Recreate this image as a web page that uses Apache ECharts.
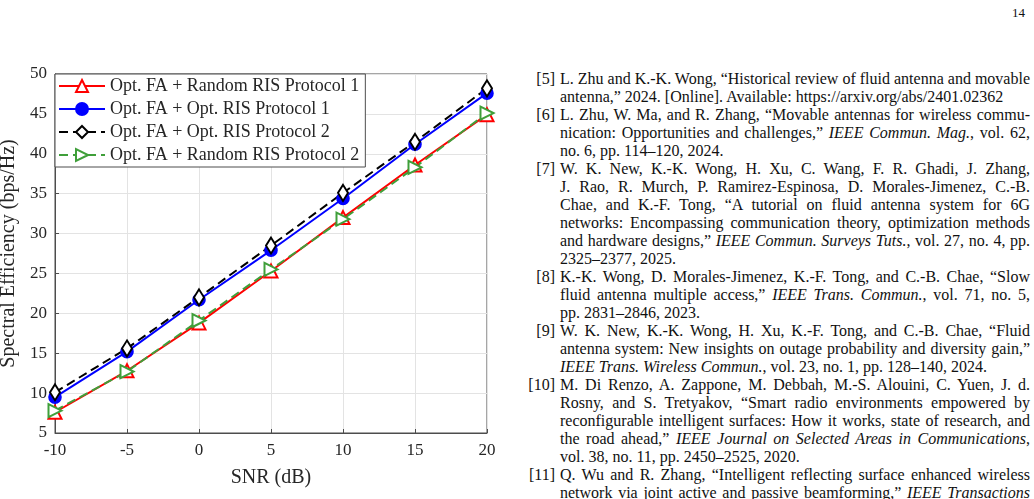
<!DOCTYPE html>
<html>
<head>
<meta charset="utf-8">
<script src="https://cdn.jsdelivr.net/npm/echarts@6/dist/echarts.min.js"></script>
<style>
  html, body { margin: 0; padding: 0; background: #fff; overflow: hidden; }
  body { width: 1034px; height: 499px; position: relative; font-family: "Liberation Serif", "DejaVu Serif", serif; color: #111; }
  #chart { position: absolute; left: 0; top: 0; width: 500px; height: 499px; }
  .pageno { position: absolute; left: 1012px; top: 5px; font-size: 13px; }
  .refs { position: absolute; left: 520px; top: 70px; width: 510px; font-size: 16px; line-height: 18px; }
  .ref { position: relative; padding-left: 40px; }
  .ref .lab { position: absolute; left: 0; width: 35px; text-align: right; }
  .ref .ln { white-space: nowrap; text-align: justify; text-align-last: justify; }
  .ref .ln.end { text-align-last: left; }
</style>
</head>
<body>
<div id="chart"></div>
<div class="pageno">14</div>
<div class="refs">
  <div class="ref"><span class="lab">[5]</span>
    <div class="ln">L. Zhu and K.-K. Wong, “Historical review of fluid antenna and movable</div>
    <div class="ln end">antenna,” 2024. [Online]. Available: https://arxiv.org/abs/2401.02362</div>
  </div>
  <div class="ref"><span class="lab">[6]</span>
    <div class="ln">L. Zhu, W. Ma, and R. Zhang, “Movable antennas for wireless commu-</div>
    <div class="ln">nication: Opportunities and challenges,” <i>IEEE Commun. Mag.</i>, vol. 62,</div>
    <div class="ln end">no. 6, pp. 114–120, 2024.</div>
  </div>
  <div class="ref"><span class="lab">[7]</span>
    <div class="ln">W. K. New, K.-K. Wong, H. Xu, C. Wang, F. R. Ghadi, J. Zhang,</div>
    <div class="ln">J. Rao, R. Murch, P. Ramirez-Espinosa, D. Morales-Jimenez, C.-B.</div>
    <div class="ln">Chae, and K.-F. Tong, “A tutorial on fluid antenna system for 6G</div>
    <div class="ln">networks: Encompassing communication theory, optimization methods</div>
    <div class="ln">and hardware designs,” <i>IEEE Commun. Surveys Tuts.</i>, vol. 27, no. 4, pp.</div>
    <div class="ln end">2325–2377, 2025.</div>
  </div>
  <div class="ref"><span class="lab">[8]</span>
    <div class="ln">K.-K. Wong, D. Morales-Jimenez, K.-F. Tong, and C.-B. Chae, “Slow</div>
    <div class="ln">fluid antenna multiple access,” <i>IEEE Trans. Commun.</i>, vol. 71, no. 5,</div>
    <div class="ln end">pp. 2831–2846, 2023.</div>
  </div>
  <div class="ref"><span class="lab">[9]</span>
    <div class="ln">W. K. New, K.-K. Wong, H. Xu, K.-F. Tong, and C.-B. Chae, “Fluid</div>
    <div class="ln">antenna system: New insights on outage probability and diversity gain,”</div>
    <div class="ln end"><i>IEEE Trans. Wireless Commun.</i>, vol. 23, no. 1, pp. 128–140, 2024.</div>
  </div>
  <div class="ref"><span class="lab">[10]</span>
    <div class="ln">M. Di Renzo, A. Zappone, M. Debbah, M.-S. Alouini, C. Yuen, J. d.</div>
    <div class="ln">Rosny, and S. Tretyakov, “Smart radio environments empowered by</div>
    <div class="ln">reconfigurable intelligent surfaces: How it works, state of research, and</div>
    <div class="ln">the road ahead,” <i>IEEE Journal on Selected Areas in Communications</i>,</div>
    <div class="ln end">vol. 38, no. 11, pp. 2450–2525, 2020.</div>
  </div>
  <div class="ref"><span class="lab">[11]</span>
    <div class="ln">Q. Wu and R. Zhang, “Intelligent reflecting surface enhanced wireless</div>
    <div class="ln">network via joint active and passive beamforming,” <i>IEEE Transactions</i></div>
  </div>
</div>
<script>
// SNR sweep and spectral efficiency (bps/Hz) per scheme
const snr = [-10, -5, 0, 5, 10, 15, 20];
const randRisP1 = [7.6, 12.8, 18.8, 25.3, 32.0, 38.6, 44.9];
const optRisP1 = [9.5, 15.2, 21.7, 27.9, 34.4, 41.2, 47.6];
const optRisP2 = [10.1, 15.6, 22.0, 28.5, 35.1, 41.5, 48.2];
const randRisP2 = [7.8, 12.7, 19.1, 25.5, 31.8, 38.3, 45.1];
const names = [
  'Opt. FA + Random RIS Protocol 1',
  'Opt. FA + Opt. RIS Protocol 1',
  'Opt. FA + Opt. RIS Protocol 2',
  'Opt. FA + Random RIS Protocol 2'
];

const pairs = arr => snr.map((x, i) => [x, arr[i]]);
const font = 'Liberation Serif';
const axisCol = '#262626';
const lineCol = '#4d4d4d';

const chart = echarts.init(document.getElementById('chart'));

function mkSeries(name, data, color, symbol, size, dashed, rotate) {
  return {
    name: name,
    type: 'line',
    data: pairs(data),
    symbol: symbol,
    symbolSize: size,
    symbolRotate: rotate || 0,
    showAllSymbol: true,
    lineStyle: { color: color, width: 2, type: dashed ? [9, 5] : 'solid' },
    itemStyle: { color: color, borderColor: color, borderWidth: 1.6 },
    emphasis: { disabled: true },
    animation: false
  };
}

chart.setOption({
  animation: false,
  grid: {
    left: 55, right: 13, top: 74, bottom: 66,
    containLabel: false,
    outerBoundsMode: 'none',
    show: true, borderColor: lineCol, borderWidth: 1
  },
  legend: {
    orient: 'vertical',
    left: 55, top: 74,
    padding: [3, 6, 3, 3],
    itemGap: 5,
    itemWidth: 46,
    itemHeight: 15,
    backgroundColor: '#fff',
    borderColor: lineCol,
    borderWidth: 1,
    borderRadius: 0,
    textStyle: { fontFamily: font, fontSize: 18, color: axisCol },
    data: names
  },
  xAxis: {
    type: 'value',
    min: -10, max: 20, interval: 5,
    name: 'SNR (dB)',
    nameLocation: 'middle',
    nameGap: 35,
    nameTextStyle: { fontFamily: font, fontSize: 20, color: axisCol },
    axisLine: { onZero: false, lineStyle: { color: lineCol } },
    axisTick: { inside: true, length: 4, lineStyle: { color: lineCol } },
    axisLabel: { fontFamily: font, fontSize: 17, color: axisCol, margin: 9 },
    splitLine: { lineStyle: { color: '#e3e3e3' } }
  },
  yAxis: {
    type: 'value',
    min: 5, max: 50, interval: 5,
    name: 'Spectral Efficiency (bps/Hz)',
    nameLocation: 'middle',
    nameGap: 27,
    nameTextStyle: { fontFamily: font, fontSize: 20, color: axisCol },
    axisLine: { show: true, onZero: false, lineStyle: { color: lineCol } },
    axisTick: { show: true, inside: true, length: 4, lineStyle: { color: lineCol } },
    axisLabel: { fontFamily: font, fontSize: 17, color: axisCol, margin: 8 },
    splitLine: { lineStyle: { color: '#e3e3e3' } }
  },
  series: [
    mkSeries(names[0], randRisP1, '#ff0000', 'emptyTriangle', 13, false),
    mkSeries(names[1], optRisP1, '#0000ff', 'circle', 12, false),
    mkSeries(names[2], optRisP2, '#000000', 'emptyDiamond', [10, 16], true),
    mkSeries(names[3], randRisP2, '#3f9f3a', 'emptyTriangle', 13, true, -90)
  ]
});
</script>
</body>
</html>
